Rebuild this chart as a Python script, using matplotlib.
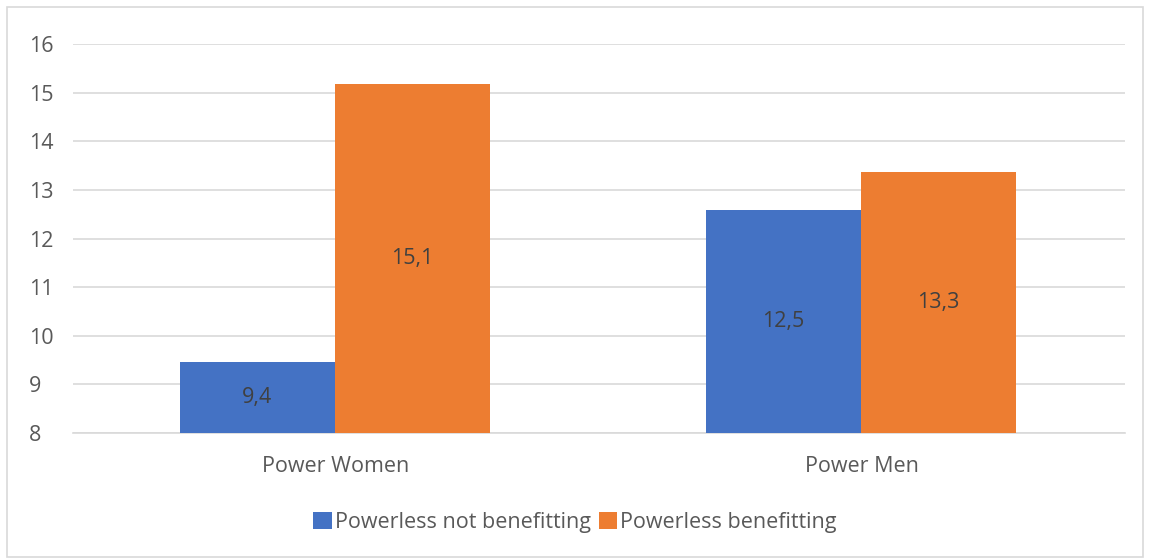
import matplotlib.pyplot as plt
import numpy as np
from matplotlib.patches import Rectangle

plt.rcParams['font.family'] = ['Open Sans', 'DejaVu Sans']

categories = ['Power Women', 'Power Men']
series_names = ['Powerless not benefitting', 'Powerless benefitting']
not_benefitting = [9.47, 12.58]
benefitting = [15.17, 13.37]
label_not = ['9,4', '12,5']
label_ben = ['15,1', '13,3']
yticks = [8, 9, 10, 11, 12, 13, 14, 15, 16]

blue = '#4472C4'
orange = '#ED7D31'
text_col = '#595959'
fs = 15.5

fig = plt.figure(figsize=(11.5, 5.6), dpi=100)
fig.patches.append(Rectangle((0.006, 0.006), 0.988, 0.982, transform=fig.transFigure,
                             fill=False, edgecolor='#d9d9d9', lw=1.2))
ax = fig.add_axes([0.0635, 0.2268, 0.9148, 0.6946])

x = np.arange(len(categories))
w = 0.295
base = 8
b1 = ax.bar(x - w / 2 - 0.002, np.array(not_benefitting) - base, w, bottom=base, color=blue,
            label=series_names[0], zorder=3)
b2 = ax.bar(x + w / 2 - 0.002, np.array(benefitting) - base, w, bottom=base, color=orange,
            label=series_names[1], zorder=3)

for bars, labels in [(b1, label_not), (b2, label_ben)]:
    for rect, lab in zip(bars, labels):
        cx = rect.get_x() + rect.get_width() / 2
        cy = rect.get_y() + rect.get_height() / 2
        ax.text(cx, cy, lab, ha='center', va='center', fontsize=fs, color='#404040', zorder=4)

ax.set_xlim(-0.5, 1.5)
ax.set_ylim(8, 16)
ax.set_yticks(yticks)
ax.set_yticklabels([str(t) for t in yticks])
ax.set_xticks(x)
ax.set_xticklabels(categories)
ax.yaxis.grid(True, color='#d9d9d9', lw=1.2, zorder=0)
for s in ax.spines.values():
    s.set_visible(False)
ax.spines['bottom'].set_visible(True)
ax.spines['bottom'].set_color('#d9d9d9')
ax.spines['bottom'].set_linewidth(1.2)
ax.tick_params(axis='both', length=0, labelsize=fs, colors=text_col)
ax.tick_params(axis='y', pad=32)
ax.tick_params(axis='x', pad=16.5)
for t in ax.get_yticklabels():
    t.set_horizontalalignment('left')

ax.legend(loc='center', bbox_to_anchor=(0.5, 0.0678), bbox_transform=fig.transFigure,
          ncol=2, frameon=False, fontsize=fs, labelcolor=text_col,
          handlelength=0.85, handleheight=0.85, handletextpad=0.15, columnspacing=0.35)

fig.savefig('out.png', dpi=100)
